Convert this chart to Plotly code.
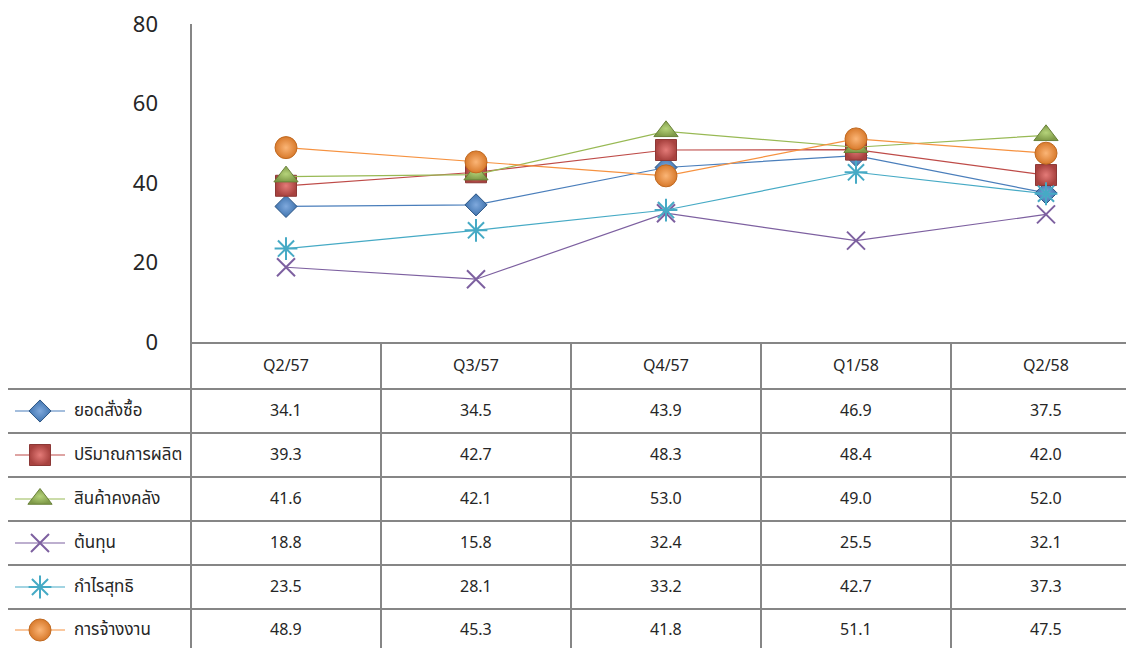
import plotly.graph_objects as go

categories = ["Q2/57", "Q3/57", "Q4/57", "Q1/58", "Q2/58"]
series_names = ["ยอดสั่งซื้อ", "ปริมาณการผลิต", "สินค้าคงคลัง", "ต้นทุน", "กำไรสุทธิ", "การจ้างงาน"]
orders = [34.1, 34.5, 43.9, 46.9, 37.5]
production = [39.3, 42.7, 48.3, 48.4, 42.0]
inventory = [41.6, 42.1, 53.0, 49.0, 52.0]
cost = [18.8, 15.8, 32.4, 25.5, 32.1]
profit = [23.5, 28.1, 33.2, 42.7, 37.3]
employment = [48.9, 45.3, 41.8, 51.1, 47.5]
series_values = [orders, production, inventory, cost, profit, employment]
y_ticks = [0, 20, 40, 60, 80]

W, H = 1134, 648
OFF = 8  # page body margin offset
FONT = "Tahoma, 'Noto Sans Thai', 'Noto Sans', 'DejaVu Sans', sans-serif"
GRID = "#868686"

styles = [
    dict(line="#4A7EBB", marker=dict(symbol="diamond", size=17, color="#3F73AE",
         gradient=dict(type="radial", color="#7FA9DD"), line=dict(color="#2C5584", width=1))),
    dict(line="#BE4B48", marker=dict(symbol="square", size=21, color="#A8423F",
         gradient=dict(type="radial", color="#E47B78"), line=dict(color="#8C3836", width=1))),
    dict(line="#98B954", marker=dict(symbol="triangle-up", size=21, color="#7F9A48",
         gradient=dict(type="radial", color="#B5D37A"), line=dict(color="#6A823A", width=1))),
    dict(line="#7D60A0", marker=dict(symbol="x-thin-open", size=18, color="#7D60A0",
         line=dict(color="#7D60A0", width=2))),
    dict(line="#46AAC5", marker=dict(symbol="asterisk-open", size=19, color="#46AAC5",
         line=dict(color="#46AAC5", width=2))),
    dict(line="#F69240", marker=dict(symbol="circle", size=22, color="#D87A2C",
         gradient=dict(type="radial", color="#FBB576"), line=dict(color="#C06A22", width=1))),
]

fig = go.Figure()

# table geometry in page pixel coords
plot_left = 191
plot_top = 24
plot_bottom = 342
col_w = 190
header_top = 343
row_lines = [389, 433, 477, 521, 565, 609]
row_centers = [411, 455, 499, 543, 587, 630]
header_center = 366

for i, (name, st) in enumerate(zip(series_names, styles)):
    yc = row_centers[i]
    fig.add_trace(go.Scatter(
        x=[15, 40, 65], y=[yc, yc, yc], mode="lines",
        line=dict(color=st["line"], width=1.2), xaxis="x2", yaxis="y2",
        showlegend=False, hoverinfo="skip",
    ))
    fig.add_trace(go.Scatter(
        x=[40], y=[yc], mode="markers", marker=st["marker"],
        xaxis="x2", yaxis="y2", showlegend=False, hoverinfo="skip",
    ))

for name, vals, st in zip(series_names, series_values, styles):
    fig.add_trace(go.Scatter(
        x=categories, y=vals, mode="lines+markers", name=name,
        line=dict(color=st["line"], width=1.2), marker=st["marker"],
        xaxis="x", yaxis="y", showlegend=False, cliponaxis=False,
    ))

right_edge = W + OFF
bottom_edge = H + OFF
shapes = []
ls = dict(color=GRID, width=2)
shapes.append(dict(type="line", xref="x2", yref="y2", x0=plot_left, x1=plot_left, y0=plot_top, y1=bottom_edge, line=ls, layer="below"))
for k in range(1, 5):
    xv = plot_left + k * col_w
    shapes.append(dict(type="line", xref="x2", yref="y2", x0=xv, x1=xv, y0=header_top, y1=bottom_edge, line=ls, layer="below"))
shapes.append(dict(type="line", xref="x2", yref="y2", x0=7, x1=7, y0=row_lines[0], y1=bottom_edge, line=ls, layer="below"))
shapes.append(dict(type="line", xref="x2", yref="y2", x0=plot_left, x1=right_edge, y0=header_top, y1=header_top, line=ls, layer="below"))
for yv in row_lines:
    shapes.append(dict(type="line", xref="x2", yref="y2", x0=7, x1=right_edge, y0=yv, y1=yv, line=ls, layer="below"))

annotations = []
for c in categories:
    annotations.append(dict(x=c, y=header_center, xref="x", yref="y2", text=c, showarrow=False,
                            font=dict(size=16, color="#262626", family=FONT)))
for i, (name, vals) in enumerate(zip(series_names, series_values)):
    annotations.append(dict(x=72, y=row_centers[i], xref="x2", yref="y2", text=name, showarrow=False,
                            xanchor="left", font=dict(size=17, color="#262626", family=FONT)))
    for c, v in zip(categories, vals):
        annotations.append(dict(x=c, y=row_centers[i], xref="x", yref="y2", text=f"{v:.1f}",
                                showarrow=False, font=dict(size=16, color="#262626", family=FONT)))

x_right = -0.5 + (right_edge - plot_left) / col_w

fig.update_layout(
    width=W, height=H,
    margin=dict(l=0, r=0, t=0, b=0, pad=0, autoexpand=False),
    paper_bgcolor="white", plot_bgcolor="rgba(0,0,0,0)",
    xaxis=dict(domain=[(plot_left - OFF) / W, 1], range=[-0.5, x_right], type="category",
               showticklabels=False, showgrid=False, zeroline=False, showline=False,
               automargin=False),
    yaxis=dict(domain=[(H - (plot_bottom - OFF)) / H, (H - (plot_top - OFF)) / H], range=[0, 80],
               tickvals=y_ticks, showgrid=False, zeroline=False, showline=False, ticks="",
               ticklabelstandoff=32, automargin=False,
               tickfont=dict(size=22, color="#262626", family=FONT)),
    xaxis2=dict(domain=[0, 1], range=[OFF, right_edge], visible=False, anchor="y2", automargin=False),
    yaxis2=dict(domain=[0, 1], range=[bottom_edge, OFF], visible=False, anchor="x2", automargin=False),
    shapes=shapes,
    annotations=annotations,
)

fig.write_html("out.html")
